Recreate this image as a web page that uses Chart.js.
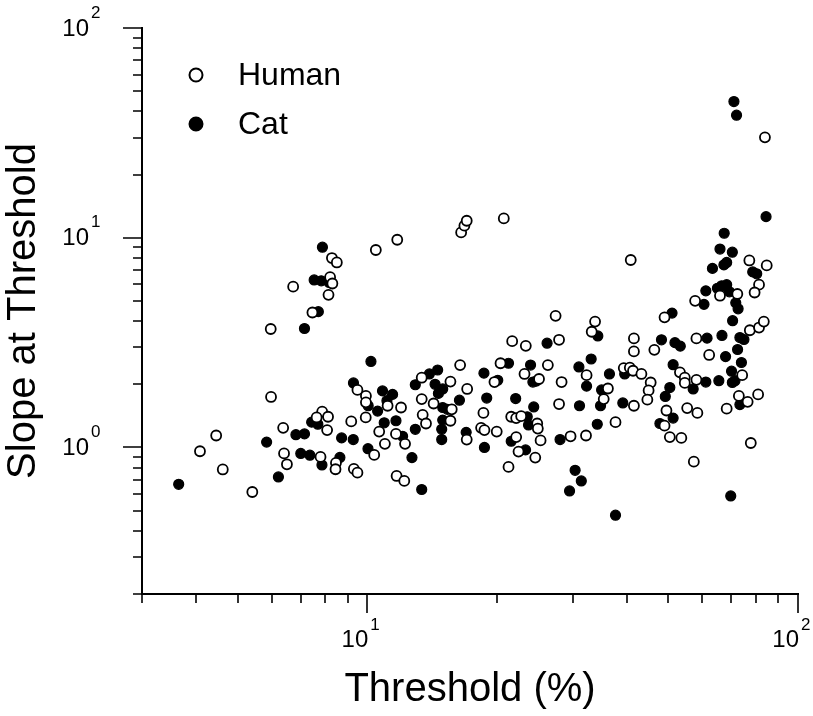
<!DOCTYPE html>
<html>
<head>
<meta charset="utf-8">
<title>Slope at Threshold vs Threshold</title>
<script src="https://cdn.jsdelivr.net/npm/chart.js@4.4.1/dist/chart.umd.min.js"></script>
<style>
  html, body { margin: 0; padding: 0; background: #fff; }
  #wrap { width: 813px; height: 716px; }
</style>
</head>
<body>
<div id="wrap"><canvas id="chart" width="813" height="716"></canvas></div>
<script>
// Human: threshold (%) and slope at threshold
const humanThreshold = [
  8.28, 8.50, 8.20, 8.30, 6.73, 8.13, 7.46, 5.97, 5.98, 9.49,
  9.93, 9.93, 7.86, 8.11, 7.63, 8.07, 9.18, 9.92, 6.38, 4.46,
  4.09, 6.41, 7.79, 6.51, 8.46, 8.44, 9.31, 9.49, 4.62, 5.41,
  10.47, 11.74, 16.52, 16.81, 17.02, 20.75, 27.37, 21.70, 23.34, 27.88,
  16.43, 20.39, 26.26, 13.38, 15.60, 23.18, 19.74, 25.05, 28.26, 17.06,
  11.15, 11.98, 13.38, 14.26, 15.71, 13.45, 13.69, 15.60, 18.61, 27.88,
  21.59, 22.17, 22.77, 24.81, 24.89, 18.38, 18.71, 19.98, 17.02, 10.66,
  11.66, 12.24, 10.99, 10.38, 22.17, 25.26, 22.45, 24.55, 29.65, 21.28,
  11.70, 12.19,
  83.8, 40.9, 77.1, 84.6, 81.2, 79.3, 65.9, 72.3, 57.7, 49.0,
  33.8, 33.2, 77.3, 81.2, 83.3, 41.6, 41.6, 46.4, 58.1, 62.2,
  32.3, 39.4, 40.7, 41.4, 43.3, 53.2, 54.6, 54.6, 58.1, 74.2,
  45.5, 45.0, 44.7, 36.2, 35.4, 41.6, 49.5, 49.0, 55.3, 58.4,
  68.3, 72.9, 76.4, 80.8, 37.7, 32.2, 50.4, 53.6, 77.7, 57.3
];
const humanSlope = [
  8.00, 7.62, 6.48, 6.05, 5.84, 5.34, 4.40, 3.67, 1.74, 1.88,
  1.76, 1.64, 1.48, 1.40, 1.39, 1.21, 1.33, 1.39, 1.24, 1.14,
  0.959, 0.936, 0.901, 0.831, 0.843, 0.787, 0.790, 0.758, 0.785, 0.613,
  8.74, 9.78, 10.6, 11.41, 12.05, 12.36, 4.24, 3.21, 3.05, 3.26,
  2.47, 2.52, 2.47, 2.15, 2.06, 2.24, 2.05, 2.12, 2.05, 1.90,
  1.58, 1.55, 1.70, 1.62, 1.52, 1.43, 1.30, 1.34, 1.46, 1.61,
  1.40, 1.38, 1.41, 1.30, 1.23, 1.24, 1.21, 1.19, 1.09, 1.19,
  1.16, 1.04, 1.04, 0.921, 1.12, 1.08, 0.955, 0.894, 1.13, 0.807,
  0.731, 0.692,
  30.1, 7.83, 7.79, 7.38, 5.97, 5.48, 5.29, 5.39, 5.00, 4.17,
  3.98, 3.56, 3.62, 3.73, 3.98, 3.31, 2.87, 2.92, 3.31, 2.76,
  2.21, 2.39, 2.40, 2.32, 2.24, 2.28, 2.15, 2.03, 2.10, 2.21,
  2.04, 1.87, 1.69, 1.91, 1.70, 1.58, 1.50, 1.27, 1.54, 1.46,
  1.53, 1.76, 1.65, 1.79, 1.32, 1.14, 1.12, 1.11, 1.05, 0.855
];

// Cat: threshold (%) and slope at threshold
const catThreshold = [
  7.87, 7.53, 7.82, 8.16, 7.70, 7.15, 10.2, 9.29, 10.05, 7.43,
  7.68, 6.83, 7.15, 5.84, 8.72, 9.28, 7.01, 7.36, 8.64, 10.04,
  7.85, 6.22, 3.65,
  26.15, 21.28, 23.94, 14.57, 13.94, 12.93, 18.66, 20.09, 24.24, 24.68,
  14.37, 14.97, 14.63, 10.85, 11.45, 11.11, 10.57, 10.95, 11.66, 14.97,
  15.35, 16.37, 14.97, 14.89, 14.89, 18.94, 22.11, 24.35, 23.52, 23.68,
  16.97, 12.93, 12.08, 12.70, 21.59, 23.31, 18.71, 28.03, 13.38, 29.49,
  30.38,
  71.0, 72.0, 84.3, 67.4, 65.9, 70.4, 68.3, 67.3, 63.3, 78.5,
  80.2, 61.1, 65.0, 66.5, 68.3, 69.3, 60.5, 71.7, 72.6, 70.5,
  51.0, 34.3, 48.2, 51.8, 53.3, 61.5, 66.6, 73.3, 74.9, 67.9,
  72.4, 73.9, 33.1, 31.0, 36.5, 39.6, 51.3, 61.1, 65.5, 70.1,
  70.4, 71.4, 50.4, 49.2, 57.1, 32.3, 35.0, 31.1, 34.8, 39.2,
  51.3, 47.8, 73.3, 34.2, 31.4, 69.8, 37.7
];
const catSlope = [
  9.01, 6.29, 6.23, 6.12, 4.44, 3.69, 2.57, 2.03, 1.58, 1.32,
  1.29, 1.15, 1.16, 1.06, 1.11, 1.09, 0.936, 0.918, 0.896, 0.986,
  0.825, 0.723, 0.667,
  3.14, 2.52, 2.47, 2.34, 2.24, 1.99, 2.26, 2.09, 2.05, 2.07,
  2.00, 1.90, 1.81, 1.86, 1.79, 1.67, 1.49, 1.31, 1.34, 1.55,
  1.52, 1.68, 1.35, 1.22, 1.09, 1.72, 1.71, 1.56, 1.40, 1.28,
  1.18, 1.22, 1.13, 0.894, 1.07, 0.973, 1.00, 1.09, 0.630, 0.620,
  0.778,
  44.6, 38.4, 12.6, 10.5, 8.83, 8.53, 7.62, 7.42, 7.14, 6.87,
  6.73, 5.58, 5.74, 5.90, 5.97, 5.52, 4.81, 4.89, 4.58, 4.02,
  4.37, 3.40, 3.26, 3.16, 3.04, 3.32, 3.42, 3.34, 3.27, 2.71,
  2.93, 2.54, 2.64, 2.42, 2.24, 2.24, 2.48, 2.05, 2.08, 2.31,
  2.04, 2.08, 1.93, 1.75, 1.90, 1.96, 1.88, 1.58, 1.58, 1.63,
  1.38, 1.30, 1.60, 1.29, 0.692, 0.587, 0.475
];

// Axis ticks (log decades get a label, the rest are minor ticks)
const xTickValues = [3, 4, 5, 6, 7, 8, 9, 10, 20, 30, 40, 50, 60, 70, 80, 90, 100];
const yTickValues = [0.2, 0.3, 0.4, 0.5, 0.6, 0.7, 0.8, 0.9, 1, 2, 3, 4, 5, 6, 7, 8, 9, 10,
  20, 30, 40, 50, 60, 70, 80, 90, 100];
const xLabelValues = [10, 100];
const yLabelValues = [1, 10, 100];

const FONT = '"Liberation Sans", Arial, Helvetica, sans-serif';

function toPoints(xs, ys) {
  return xs.map((x, i) => ({ x: x, y: ys[i] }));
}

function isDecade(v) {
  return Math.abs(Math.log10(v) - Math.round(Math.log10(v))) < 1e-9;
}

// ticks, power-of-ten labels and the legend in the upper left
const axisDecor = {
  id: "axisDecor",
  afterDraw(chart) {
    const ctx = chart.ctx;
    const xs = chart.scales.x;
    const ys = chart.scales.y;
    const area = chart.chartArea;

    ctx.save();
    ctx.strokeStyle = "#000";
    ctx.lineWidth = 1.6;
    ctx.beginPath();
    xs.ticks.forEach((t) => {
      const px = Math.round(xs.getPixelForValue(t.value));
      const len = isDecade(t.value) ? 19 : 9;
      ctx.moveTo(px, area.bottom);
      ctx.lineTo(px, area.bottom + len);
    });
    ys.ticks.forEach((t) => {
      const py = Math.round(ys.getPixelForValue(t.value));
      const len = isDecade(t.value) ? 19 : 9;
      ctx.moveTo(area.left, py);
      ctx.lineTo(area.left - len, py);
    });
    ctx.stroke();

    ctx.fillStyle = "#000";
    ctx.textBaseline = "middle";
    xLabelValues.forEach((v) => {
      const px = xs.getPixelForValue(v);
      const exp = String(Math.round(Math.log10(v)));
      ctx.font = "24px " + FONT;
      ctx.textAlign = "right";
      ctx.fillText("10", px + 1, area.bottom + 46);
      ctx.font = "17px " + FONT;
      ctx.textAlign = "left";
      ctx.fillText(exp, px + 3, area.bottom + 31);
    });
    yLabelValues.forEach((v) => {
      const py = ys.getPixelForValue(v);
      const exp = String(Math.round(Math.log10(v)));
      ctx.font = "24px " + FONT;
      ctx.textAlign = "right";
      ctx.fillText("10", 89, py + 1);
      ctx.font = "17px " + FONT;
      ctx.textAlign = "left";
      ctx.fillText(exp, 91, py - 15);
    });

    // legend
    chart.data.datasets.forEach((ds, i) => {
      const cy = 75 + i * 49;
      ctx.beginPath();
      ctx.arc(196, cy, 6.5, 0, Math.PI * 2);
      ctx.fillStyle = ds.pointBackgroundColor;
      ctx.fill();
      ctx.lineWidth = 2;
      ctx.strokeStyle = ds.pointBorderColor;
      ctx.stroke();
      ctx.fillStyle = "#000";
      ctx.font = "32px " + FONT;
      ctx.textAlign = "left";
      ctx.fillText(ds.label, 238, cy + 1);
    });
    ctx.restore();
  },
};

new Chart(document.getElementById("chart"), {
  type: "scatter",
  data: {
    datasets: [
      {
        label: "Human",
        data: toPoints(humanThreshold, humanSlope),
        pointStyle: "circle",
        pointRadius: 5,
        pointBorderWidth: 1.8,
        pointBackgroundColor: "#fff",
        pointBorderColor: "#000",
      },
      {
        label: "Cat",
        data: toPoints(catThreshold, catSlope),
        pointStyle: "circle",
        pointRadius: 5,
        pointBorderWidth: 1.2,
        pointBackgroundColor: "#000",
        pointBorderColor: "#000",
      },
    ],
  },
  options: {
    responsive: false,
    animation: false,
    layout: { padding: { top: 28, right: 15, left: 0, bottom: 0 } },
    plugins: { legend: { display: false }, tooltip: { enabled: false } },
    scales: {
      x: {
        type: "logarithmic",
        position: "bottom",
        min: 3,
        max: 100,
        afterBuildTicks: (s) => { s.ticks = xTickValues.map((v) => ({ value: v })); },
        afterFit: (s) => { s.height = 122; },
        grid: { display: false },
        ticks: { display: false },
        border: { display: true, color: "#000", width: 2 },
        title: {
          display: true,
          text: "Threshold (%)",
          color: "#000",
          font: { family: FONT, size: 40 },
          padding: { top: 0, bottom: 2 },
        },
      },
      y: {
        type: "logarithmic",
        position: "left",
        min: 0.2,
        max: 100,
        afterBuildTicks: (s) => { s.ticks = yTickValues.map((v) => ({ value: v })); },
        afterFit: (s) => { s.width = 142; },
        grid: { display: false },
        ticks: { display: false },
        border: { display: true, color: "#000", width: 2 },
        title: {
          display: true,
          text: "Slope at Threshold",
          color: "#000",
          font: { family: FONT, size: 40 },
          padding: { top: 0, bottom: 0 },
        },
      },
    },
  },
  plugins: [axisDecor],
});
</script>
</body>
</html>
